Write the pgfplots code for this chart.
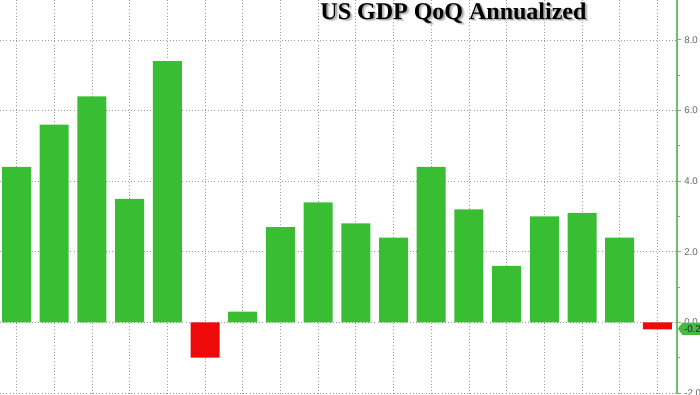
\documentclass[border=0pt]{standalone}
\usepackage{fontspec}
\setmainfont{Liberation Serif}
\setsansfont{Liberation Sans}
\usepackage{pgfplots}
\pgfplotsset{compat=1.18}
\usetikzlibrary{shapes.symbols}
\definecolor{barg}{RGB}{57,190,51}
\definecolor{barr}{RGB}{238,10,10}
\definecolor{axg}{RGB}{110,190,100}
\definecolor{tagg}{RGB}{70,185,70}
\definecolor{tickgray}{RGB}{100,100,100}
\begin{document}
\begin{tikzpicture}
\useasboundingbox (0,0) rectangle (525pt,295.5pt);
\clip (0,0) rectangle (525pt,295.5pt);
\begin{axis}[at={(0,0)}, anchor=south west, scale only axis,
  width=507.75pt, height=295.5pt,
  xmin=-0.4377, xmax=17.52, ymin=-2.03, ymax=9.13,
  axis x line*=bottom, axis y line*=right,
  x axis line style={draw=none},
  y axis line style={axg, line width=0.8pt, -},
  xtick={0,...,17}, xticklabels={}, major x tick style={draw=none},
  ytick={-2,0,2,4,6,8}, minor ytick={-1,1,3,5,7},
  /pgf/number format/assume math mode=true,
  yticklabel style={font=\sffamily\fontsize{7.3}{8}\selectfont, text=tickgray, xshift=-1pt,
    /pgf/number format/.cd, fixed, fixed zerofill, precision=1},
  xmajorgrids, ymajorgrids,
  major grid style={dotted, gray!80, line width=0.5pt},
  tick align=outside, major tick length=3pt, minor tick length=2pt,
  y tick style={axg, line width=0.6pt},
  ybar, bar width=21.75pt, bar shift=0pt, clip=false]
\addplot[fill=barg, draw=none] coordinates {
 (0,4.4) (1,5.6) (2,6.4) (3,3.5) (4,7.4) (6,0.3) (7,2.7) (8,3.4) (9,2.8)
 (10,2.4) (11,4.4) (12,3.2) (13,1.6) (14,3.0) (15,3.1) (16,2.4)};
\addplot[fill=barr, draw=none] coordinates {(5,-1.0) (17,-0.2)};
\coordinate (tagpt) at (axis cs:17.52,-0.2);
\end{axis}
\node[signal, signal to=west, signal pointer angle=110, fill=tagg, text=black!85,
  font=\sffamily\fontsize{7.3}{8}\selectfont, inner xsep=1.3pt, inner ysep=2pt, anchor=west, xshift=0.5pt, yshift=0.5pt]
  at (tagpt) {-0.2};
\node[anchor=base, font=\bfseries\fontsize{18}{20}\selectfont, text=gray!30] at (342.2pt,279.2pt) {US GDP QoQ Annualized};
\node[anchor=base, font=\bfseries\fontsize{18}{20}\selectfont, text=gray!65] at (341.3pt,280.1pt) {US GDP QoQ Annualized};
\node[anchor=base, font=\bfseries\fontsize{18}{20}\selectfont, text=black] at (340.1pt,281.25pt) {US GDP QoQ Annualized};
\end{tikzpicture}
\end{document}
